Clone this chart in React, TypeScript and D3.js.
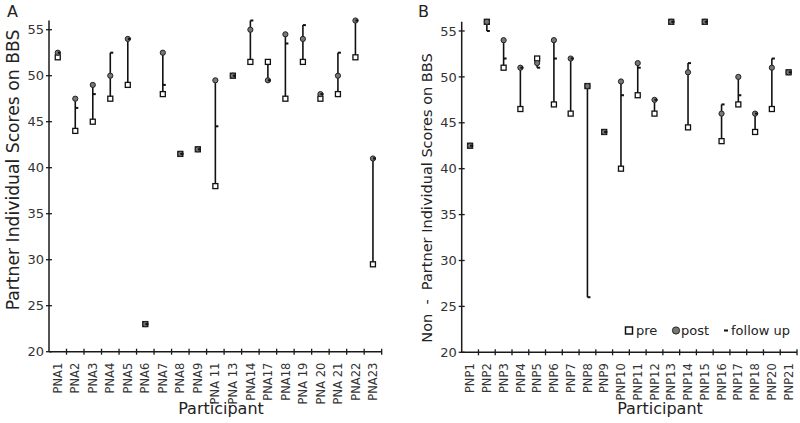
import React from "react";
import * as d3 from "d3";

const catsA = ["PNA1","PNA2","PNA3","PNA4","PNA5","PNA6","PNA7","PNA8","PNA9","PNA 11","PNA 13","PNA14","PNA17","PNA18","PNA 19","PNA 20","PNA 21","PNA22","PNA23"];
const preA = [52,44,45,47.5,49,23,48,41.5,42,38,50,51.5,51.5,47.5,51.5,47.5,48,52,29.5];
const postA = [52.5,47.5,49,50,54,23,52.5,41.5,42,49.5,50,55,49.5,54.5,54,48,50,56,41];
const followA = [52.5,46.5,48,52.5,54,23,49,41.5,42,44.5,50,56,49.5,53.5,55.5,48,52.5,56,41];

const catsB = ["PNP1","PNP2","PNP3","PNP4","PNP5","PNP6","PNP7","PNP8","PNP9","PNP10","PNP11","PNP12","PNP13","PNP14","PNP15","PNP16","PNP17","PNP18","PNP20","PNP21"];
const preB = [42.5,56,51,46.5,52,47,46,49,44,40,48,46,56,44.5,56,43,47,44,46.5,50.5];
const postB = [42.5,56,54,51,51.5,54,52,49,44,49.5,51.5,47.5,56,50.5,56,46,50,46,51,50.5];
const followB = [42.5,55,52,51,51,52,52,26,44,48,51,47.5,56,51.5,56,47,48,46,52,50.5];

const yTicks = [20,25,30,35,40,45,50,55];
const FONT = "DejaVu Sans, Verdana, sans-serif";

type PanelProps = {
  cats: string[]; pre: number[]; post: number[]; follow: number[];
  x0: number; x1: number; yBottom: number; yTop: number;
  letter: string; letterX: number; yLabel: string; yLabelX: number; yLabelY: number; yLabelSize: number; xLabelX: number;
};

function Panel(p: PanelProps) {
  const x = d3.scaleBand<string>().domain(p.cats).range([p.x0, p.x1]).padding(0);
  const y = d3.scaleLinear().domain([20, 56]).range([p.yBottom, p.yTop]);
  const bw = x.bandwidth();
  const axisColor = "#1a1a1a";
  return (
    <g>
      <text x={p.letterX} y={17} fontFamily={FONT} fontSize={16} fill="#222">{p.letter}</text>
      {/* y axis */}
      <line x1={p.x0} x2={p.x0} y1={y(56)} y2={y(20)} stroke={axisColor} strokeWidth={1.5} />
      {yTicks.map((t) => (
        <g key={t}>
          <line x1={p.x0 - 3} x2={p.x0 + 3} y1={y(t)} y2={y(t)} stroke={axisColor} strokeWidth={1.3} />
          <text x={p.x0 - 5} y={y(t)} dy="0.36em" textAnchor="end" fontFamily={FONT} fontSize={13} fill="#333">{t}</text>
        </g>
      ))}
      {/* x axis */}
      <line x1={p.x0} x2={p.x1} y1={y(20)} y2={y(20)} stroke={axisColor} strokeWidth={1.5} />
      {p.cats.map((c) => (
        <g key={c}>
          <line x1={(x(c) as number) + bw} x2={(x(c) as number) + bw} y1={y(20) - 3} y2={y(20) + 3} stroke={axisColor} strokeWidth={1.3} />
          <text transform={`translate(${(x(c) as number) + bw / 2},${y(20) + 11}) rotate(-90)`} dy="0.36em" textAnchor="end" fontFamily={FONT} fontSize={11.5} fill="#333">{c}</text>
        </g>
      ))}
      {/* data */}
      {p.cats.map((c, i) => {
        const cx = (x(c) as number) + bw / 2;
        const vals = [p.pre[i], p.post[i], p.follow[i]];
        const lo = d3.min(vals) as number;
        const hi = d3.max(vals) as number;
        return (
          <g key={"d" + c}>
            <line x1={cx} x2={cx} y1={y(lo)} y2={y(hi)} stroke="#111" strokeWidth={1.6} />
            <rect x={cx - 2.5} y={y(p.pre[i]) - 2.5} width={5} height={5} fill="#fff" stroke="#111" strokeWidth={1.3} />
            <circle cx={cx} cy={y(p.post[i])} r={2.6} fill="#777" stroke="#222" strokeWidth={1} />
            <rect x={cx} y={y(p.follow[i]) - 1} width={3} height={2} fill="#111" />
          </g>
        );
      })}
      <text transform={`translate(${p.yLabelX},${p.yLabelY}) rotate(-90)`} textAnchor="middle" fontFamily={FONT} fontSize={p.yLabelSize} fill="#222" style={{ whiteSpace: "pre" }}>{p.yLabel}</text>
      <text x={p.xLabelX} y={414} textAnchor="middle" fontFamily={FONT} fontSize={16} fill="#222">Participant</text>
    </g>
  );
}

export default function App() {
  return (
    <div style={{ position: "absolute", left: 0, top: 0 }}>
      <svg width={800} height={423} style={{ display: "block", background: "#fff" }}>
        <Panel cats={catsA} pre={preA} post={postA} follow={followA}
          x0={49} x1={381.7} yBottom={351.7} yTop={20.5}
          letter="A" letterX={7} yLabel="Partner Individual Scores on BBS" yLabelX={19} yLabelY={170} yLabelSize={17.2} xLabelX={221} />
        <Panel cats={catsB} pre={preB} post={postB} follow={followB}
          x0={461.7} x1={797} yBottom={352.3} yTop={21.8}
          letter="B" letterX={418} yLabel={"Non  -  Partner Individual Scores on BBS"} yLabelX={432} yLabelY={198} yLabelSize={14.5} xLabelX={660} />
        {/* legend */}
        <g fontFamily={FONT} fontSize={13} fill="#222">
          <rect x={625.5} y={327} width={7} height={7} fill="#fff" stroke="#111" strokeWidth={1.5} />
          <text x={636} y={335}>pre</text>
          <circle cx={676} cy={330.5} r={3.6} fill="#777" stroke="#222" strokeWidth={1} />
          <text x={681} y={335}>post</text>
          <rect x={724} y={329.5} width={4} height={2} fill="#111" />
          <text x={731} y={335}>follow up</text>
        </g>
      </svg>
    </div>
  );
}
